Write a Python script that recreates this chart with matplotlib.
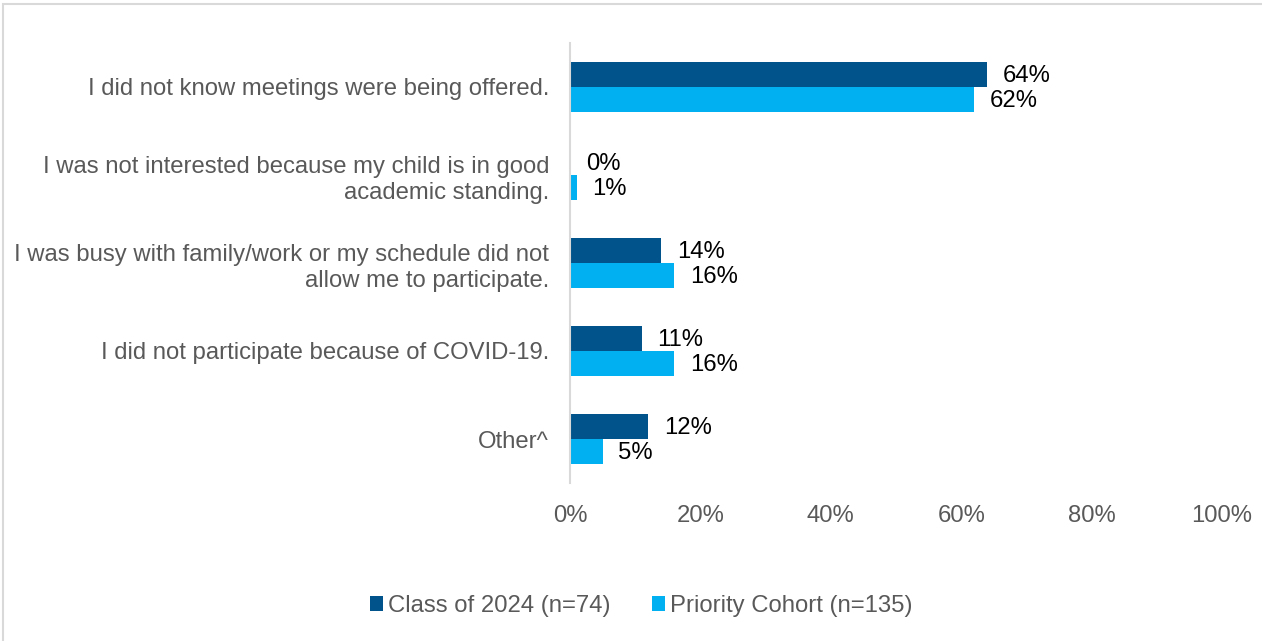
import matplotlib
matplotlib.use('Agg')
from matplotlib import pyplot as plt
from matplotlib.patches import Rectangle
import numpy as np

plt.rcParams['font.family'] = ['Liberation Sans', 'DejaVu Sans']

categories = [
    'I did not know meetings were being offered.',
    'I was not interested because my child is in good\nacademic standing.',
    'I was busy with family/work or my schedule did not\nallow me to participate.',
    'I did not participate because of COVID-19.',
    'Other^',
]
class_2024 = [64, 0, 14, 11, 12]
priority = [62, 1, 16, 16, 5]
series_names = ['Class of 2024 (n=74)', 'Priority Cohort (n=135)']
xticks = [0, 20, 40, 60, 80, 100]

dark = '#00538B'
light = '#00B0F0'
grey = '#595959'
fs = 17.2

W, H = 1262, 641
fig = plt.figure(figsize=(W / 100, H / 100), dpi=100)
ax = fig.add_axes([570 / W, 1 - 483 / H, (1222 - 570) / W, (483 - 43) / H])

# outer chart border (partially cropped)
fig.patches.append(Rectangle((3 / W, -0.1), 1.2, 1 - 4 / H + 0.1, transform=fig.transFigure,
                             fill=False, edgecolor='#D9D9D9', linewidth=1.5))

y = np.arange(len(categories))
h = 0.285
b1 = ax.barh(y - h / 2, class_2024, height=h, color=dark, label=series_names[0])
b2 = ax.barh(y + h / 2, priority, height=h, color=light, label=series_names[1])

for bars, vals in ((b1, class_2024), (b2, priority)):
    for rect, v in zip(bars, vals):
        ax.text(v + 2.4, rect.get_y() + rect.get_height() / 2 + 0.02, f'{v}%',
                va='center', ha='left', fontsize=fs, color='black')

ax.set_xlim(0, 100)
ax.set_ylim(len(categories) - 0.5, -0.5)
ax.set_yticks(y)
ax.set_yticklabels(categories, fontsize=fs, color=grey, linespacing=1.25)
ax.set_xticks(xticks)
ax.set_xticklabels([f'{t}%' for t in xticks], fontsize=fs, color=grey)
ax.tick_params(axis='both', length=0)
ax.tick_params(axis='y', pad=15)
ax.tick_params(axis='x', pad=16)
for s in ['top', 'right', 'bottom']:
    ax.spines[s].set_visible(False)
ax.spines['left'].set_color('#D9D9D9')
ax.spines['left'].set_linewidth(1.5)

fig.legend(handles=[b1, b2], labels=series_names, loc='center',
           bbox_to_anchor=(641 / W, 1 - 606 / H), ncol=2, frameon=False,
           fontsize=fs, labelcolor=grey, handlelength=0.55, handleheight=0.55,
           handletextpad=0.2, columnspacing=1.75)

plt.savefig('out.png', dpi=100)
